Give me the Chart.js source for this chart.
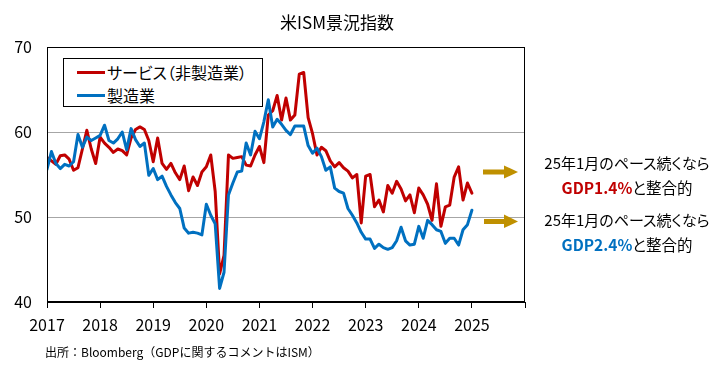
<!DOCTYPE html>
<html><head><meta charset="utf-8">
<script src="https://cdn.jsdelivr.net/npm/chart.js@4.4.1/dist/chart.umd.min.js"></script>
<style>
html,body{margin:0;padding:0;background:#fff;}
#wrap{position:relative;width:725px;height:377px;overflow:hidden;font-family:"Noto Sans CJK JP","Noto Sans",sans-serif;color:#000;}
canvas{position:absolute;left:0;top:0;}
.t{position:absolute;white-space:nowrap;line-height:1;}
.palt{font-feature-settings:"palt" 1;}
#legend{position:absolute;left:63px;top:58px;width:198px;height:47px;border:1px solid #000;background:#fff;}
.lg{position:absolute;left:13px;width:28px;height:3px;}
.lt{position:absolute;left:43px;font-size:16px;line-height:1;white-space:nowrap;font-feature-settings:"palt" 1;}
</style></head><body>
<div id="wrap">
<canvas id="c" width="725" height="377"></canvas>
<div class="t" style="left:237px;width:200px;text-align:center;top:13px;font-size:17px;">米ISM景況指数</div>
<div id="legend">
  <div class="lg" style="top:12px;background:#C00000"></div>
  <div class="lt" style="top:5px">サービス（非製造業）</div>
  <div class="lg" style="top:35px;background:#0070C0"></div>
  <div class="lt" style="top:28px">製造業</div>
</div>
<svg style="position:absolute;left:0;top:0" width="725" height="377">
  <rect x="483" y="169.5" width="23" height="5" fill="#BF9000"/>
  <polygon points="504,165.5 518,172 504,178.5" fill="#BF9000"/>
  <rect x="484" y="219" width="22" height="5" fill="#BF9000"/>
  <polygon points="504,214.5 518,221.5 504,228" fill="#BF9000"/>
</svg>
<div class="t palt" style="left:527px;width:200px;text-align:center;top:155px;font-size:15px;">25年1月のペース続くなら</div>
<div class="t palt" style="left:527px;width:200px;text-align:center;top:180px;font-size:15.5px;"><b style="color:#C00000">GDP1.4%</b>と整合的</div>
<div class="t palt" style="left:527px;width:200px;text-align:center;top:212px;font-size:15px;">25年1月のペース続くなら</div>
<div class="t palt" style="left:527px;width:200px;text-align:center;top:237px;font-size:15.5px;"><b style="color:#0070C0">GDP2.4%</b>と整合的</div>
<div class="t" style="left:45px;top:346px;font-size:12px;">出所：Bloomberg（GDPに関するコメントはISM）</div>
</div>
<script>
// Monthly, Jan 2017 - Jan 2025
const yearLabels = ['2017','2018','2019','2020','2021','2022','2023','2024','2025'];
const yTicks = [40, 50, 60, 70];
const seriesNames = ['サービス（非製造業）', '製造業'];

const services = [
  57.0, 56.6, 56.2, 57.2, 57.3, 56.8, 55.5, 55.8, 58.0, 60.2, 58.0, 56.3,
  59.4, 58.7, 58.2, 57.6, 58.0, 57.8, 57.3, 59.3, 60.3, 60.6, 60.3, 59.0,
  56.5, 59.3, 56.3, 55.6, 56.3, 55.2, 54.4, 56.0, 53.1, 54.7, 53.7, 55.3,
  55.9, 57.3, 53.0, 43.3, 45.5, 57.3, 56.9, 57.0, 57.1, 56.1, 56.0, 57.3,
  58.3, 56.4, 62.0, 62.5, 64.3, 61.4, 64.0, 61.4, 62.0, 66.8, 67.0, 61.7,
  59.8, 57.3, 58.2, 57.8, 56.6, 55.9, 56.4, 55.8, 55.4, 54.6, 55.0, 49.3,
  54.8, 55.0, 51.2, 52.0, 50.6, 53.7, 52.8, 54.2, 53.3, 51.9, 52.6, 50.5,
  53.4, 52.6, 51.5, 49.6, 53.9, 48.9, 51.2, 51.4, 54.7, 55.9, 52.0, 54.0,
  52.8
];
const manufacturing = [
  55.6, 57.7, 56.3, 55.7, 56.2, 56.0, 56.5, 59.7, 58.2, 59.4, 59.0, 59.3,
  59.6, 60.8, 59.0, 58.7, 59.2, 60.0, 57.9, 60.4, 59.1, 58.3, 58.7, 54.9,
  55.7, 54.4, 54.8, 53.6, 52.6, 51.7, 51.0, 48.7, 48.1, 48.2, 48.1, 47.9,
  51.5, 50.2, 49.2, 41.6, 43.5, 52.6, 54.0, 55.3, 55.4, 58.7, 57.3, 60.1,
  59.2, 61.2, 63.8, 60.6, 61.5, 60.9, 60.2, 59.7, 60.7, 60.7, 60.7, 58.4,
  57.5, 58.1, 57.1, 55.5, 55.9, 53.4, 53.0, 52.8, 51.0, 50.2, 49.3, 48.2,
  47.4, 47.4, 46.3, 46.8, 46.4, 46.2, 46.4, 47.2, 48.8, 47.2, 46.7, 46.8,
  48.9, 47.5, 49.6, 49.1, 48.5, 48.3, 46.9, 47.5, 47.5, 46.7, 48.5, 49.1,
  50.8
];

const FONT = "'Noto Sans CJK JP','Noto Sans',sans-serif";
const toXY = arr => arr.map((v, i) => ({x: i, y: v}));

const frame = {
  id: 'frame',
  afterDatasetsDraw(chart) {
    const a = chart.chartArea, ctx = chart.ctx;
    ctx.save();
    ctx.strokeStyle = '#000';
    ctx.lineWidth = 1;
    ctx.strokeRect(Math.round(a.left) + 0.5, Math.round(a.top) + 0.5,
                   Math.round(a.right - a.left) - 1, Math.round(a.bottom - a.top) - 1);
    ctx.restore();
  }
};

new Chart(document.getElementById('c'), {
  type: 'line',
  data: {
    datasets: [
      {label: seriesNames[0], data: toXY(services), borderColor: '#C00000', borderWidth: 3,
       pointRadius: 0, tension: 0, fill: false, borderJoinStyle: 'round', borderCapStyle: 'round', order: 1},
      {label: seriesNames[1], data: toXY(manufacturing), borderColor: '#0070C0', borderWidth: 3,
       pointRadius: 0, tension: 0, fill: false, borderJoinStyle: 'round', borderCapStyle: 'round', order: 0}
    ]
  },
  options: {
    responsive: false, animation: false, devicePixelRatio: 1,
    layout: {padding: {left: 0, right: 200, top: 47, bottom: 0}},
    plugins: {legend: {display: false}, title: {display: false}, tooltip: {enabled: false}},
    scales: {
      x: {
        type: 'linear', min: 0, max: 108,
        afterFit(s) { s.height = 75; },
        afterBuildTicks(s) { s.ticks = Array.from({length: 10}, (_, k) => ({value: k * 12})); },
        ticks: {autoSkip: false, maxRotation: 0, padding: 7, color: '#000',
                font: {size: 16, family: FONT},
                callback: v => yearLabels[v / 12] ?? ''},
        grid: {drawOnChartArea: false, drawTicks: true, tickLength: 6, color: '#000'},
        border: {color: '#000', width: 1}
      },
      y: {
        min: 40, max: 70,
        afterFit(s) { s.width = 47; },
        afterBuildTicks(s) { s.ticks = yTicks.map(v => ({value: v})); },
        ticks: {padding: 15, color: '#000', font: {size: 16, family: FONT}},
        grid: {drawTicks: false, color: c => (c.tick && (c.tick.value === 50 || c.tick.value === 60)) ? '#A6A6A6' : 'rgba(0,0,0,0)'},
        border: {color: '#000', width: 1}
      }
    }
  },
  plugins: [frame]
});
</script>
</body></html>
